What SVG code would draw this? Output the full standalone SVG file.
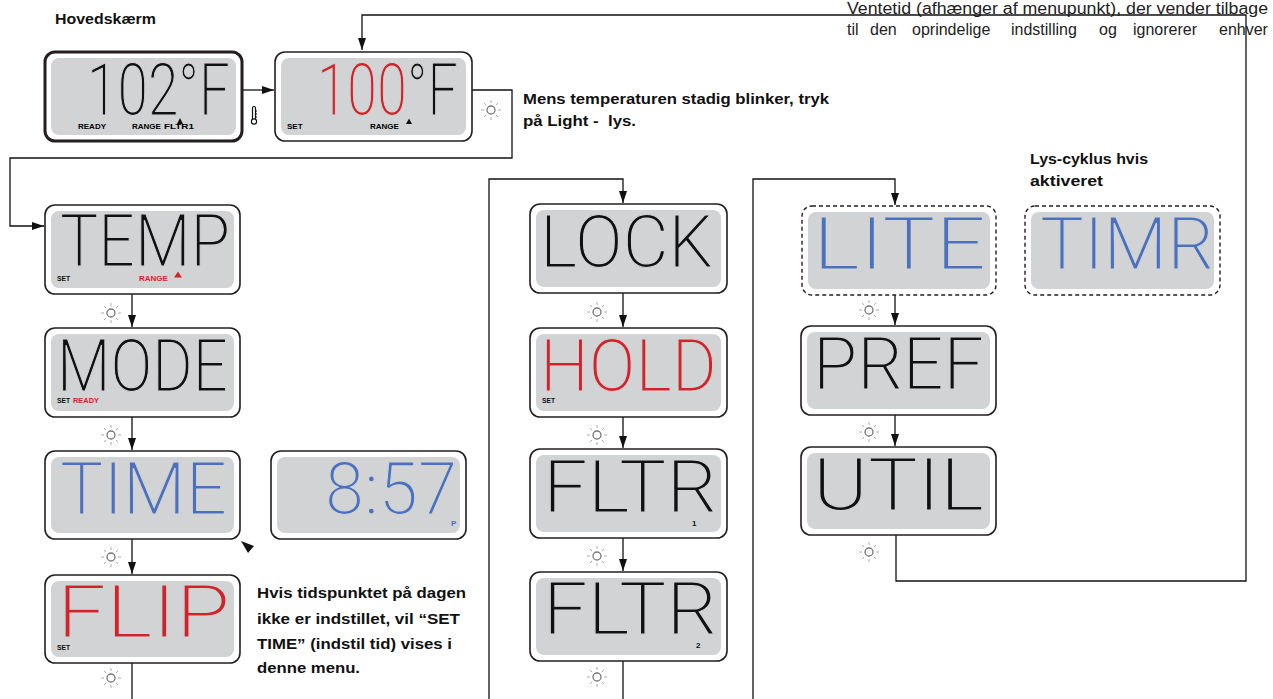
<svg xmlns="http://www.w3.org/2000/svg" width="1273" height="699" viewBox="0 0 1273 699">
<style>
.frame{fill:#fff;stroke:#231f20;stroke-width:1.6}
.thick{stroke-width:3}
.dash{stroke-dasharray:4 3;stroke-width:1.4}
.screen{fill:#d1d3d4}
.seg{font-family:"Roboto Light",Roboto,"DejaVu Sans",sans-serif;font-weight:300;font-size:73px;stroke:#d1d3d4;stroke-width:1.2}
.k{fill:#111}
.r{fill:#d2232a}
.b{fill:#4a70bf}
.lbl{font-family:"Liberation Sans",Arial,sans-serif;font-weight:bold;font-size:8px;stroke:none}
.conn{fill:none;stroke:#111;stroke-width:1.3}
.note{font-family:"Liberation Sans",Arial,sans-serif;font-weight:bold;font-size:15px;fill:#111}
.plain{font-family:"Liberation Sans Narrow","Liberation Sans",Arial,sans-serif;font-size:16px;fill:#222}
</style>
<defs>
<marker id="ah" viewBox="0 0 12 8" refX="12" refY="4" markerWidth="12" markerHeight="8" orient="auto" markerUnits="userSpaceOnUse">
<path d="M0,0 L12,4 L0,8 z" fill="#111"/>
</marker>
<g id="light">
<circle r="4" fill="#fff" stroke="#777" stroke-width="1.3"/>
<g stroke="#aaa" stroke-width="1">
<line x1="0" y1="-7" x2="0" y2="-10"/>
<line x1="0" y1="7" x2="0" y2="10"/>
<line x1="-7" y1="0" x2="-10" y2="0"/>
<line x1="7" y1="0" x2="10" y2="0"/>
<line x1="4.9" y1="4.9" x2="7" y2="7"/>
<line x1="-4.9" y1="4.9" x2="-7" y2="7"/>
<line x1="4.9" y1="-4.9" x2="7" y2="-7"/>
<line x1="-4.9" y1="-4.9" x2="-7" y2="-7"/>
</g>
</g>
</defs>
<rect width="1273" height="699" fill="#fff"/>

<g id="texts">
<text class="note" x="55" y="24" textLength="101" lengthAdjust="spacingAndGlyphs">Hovedskærm</text>
<text class="note" x="523" y="104" textLength="306" lengthAdjust="spacingAndGlyphs">Mens temperaturen stadig blinker, tryk</text>
<text class="note" x="523" y="126" textLength="113" lengthAdjust="spacingAndGlyphs" xml:space="preserve">på Light -  lys.</text>
<text class="note" x="1030" y="164" textLength="118" lengthAdjust="spacingAndGlyphs">Lys-cyklus hvis</text>
<text class="note" x="1030" y="186" textLength="73" lengthAdjust="spacingAndGlyphs">aktiveret</text>
<text class="note" x="257" y="598" textLength="209" lengthAdjust="spacingAndGlyphs">Hvis tidspunktet på dagen</text>
<text class="note" x="257" y="624" textLength="203" lengthAdjust="spacingAndGlyphs">ikke er indstillet, vil “SET</text>
<text class="note" x="257" y="649" textLength="195" lengthAdjust="spacingAndGlyphs">TIME” (indstil tid) vises i</text>
<text class="note" x="257" y="673" textLength="103" lengthAdjust="spacingAndGlyphs">denne menu.</text>
<text class="plain" x="847" y="14" textLength="421" lengthAdjust="spacingAndGlyphs">Ventetid (afhænger af menupunkt), der vender tilbage</text>
<text class="plain" y="35"><tspan x="847">til</tspan><tspan x="870">den</tspan><tspan x="912">oprindelige</tspan><tspan x="1011">indstilling</tspan><tspan x="1099">og</tspan><tspan x="1133">ignorerer</tspan><tspan x="1219">enhver</tspan></text>
</g>

<g id="connectors">
<path class="conn" d="M243,90 H274" marker-end="url(#ah)"/>
<path class="conn" d="M472,90 H512 V158 H10 V226 H44" marker-end="url(#ah)"/>
<path class="conn" d="M132,294 V327" marker-end="url(#ah)"/>
<path class="conn" d="M132,417 V450" marker-end="url(#ah)"/>
<path class="conn" d="M132,539 V574" marker-end="url(#ah)"/>
<path class="conn" d="M132,663 V699"/>
<path class="conn" d="M489,699 V179 H623 V203" marker-end="url(#ah)"/>
<path class="conn" d="M623,293 V327" marker-end="url(#ah)"/>
<path class="conn" d="M623,417 V448" marker-end="url(#ah)"/>
<path class="conn" d="M623,538 V571" marker-end="url(#ah)"/>
<path class="conn" d="M623,661 V699"/>
<path class="conn" d="M753,699 V179 H895 V205" marker-end="url(#ah)"/>
<path class="conn" d="M895,295 V325" marker-end="url(#ah)"/>
<path class="conn" d="M895,415 V446" marker-end="url(#ah)"/>
<path class="conn" d="M896,535 V581 H1246 V15 H362 V50" marker-end="url(#ah)"/>
<polygon points="241,541 254,546 248,553" fill="#111"/>
</g>

<g id="icons">
<use href="#light" x="491" y="110"/>
<use href="#light" x="111" y="313"/>
<use href="#light" x="111" y="435"/>
<use href="#light" x="111" y="557"/>
<use href="#light" x="111" y="678"/>
<use href="#light" x="597" y="312"/>
<use href="#light" x="597" y="435"/>
<use href="#light" x="597" y="556"/>
<use href="#light" x="597" y="677"/>
<use href="#light" x="869" y="310"/>
<use href="#light" x="869" y="432"/>
<use href="#light" x="869" y="552"/>
<g id="thermo" fill="none" stroke="#111" stroke-width="1.2">
<path d="M252.5,119 V108 a1.5,1.5 0 0 1 3,0 V119"/>
<circle cx="254" cy="121.5" r="2.6"/>
<path d="M255.5,111 h1.5 M255.5,114 h1.5 M255.5,117 h1.5"/>
</g>
</g>

<g id="n-102f">
<rect class="frame thick" x="45" y="52" width="197" height="89" rx="10"/>
<rect class="screen" x="51" y="58" width="185" height="77" rx="8"/>
<text class="seg k" x="87" y="115" textLength="143" lengthAdjust="spacingAndGlyphs">102°F</text>
<text class="lbl" x="78" y="129">READY</text>
<text class="lbl" x="132" y="129">RANGE</text>
<text class="lbl" x="164" y="129" textLength="30" lengthAdjust="spacingAndGlyphs">FLTR1</text>
<polygon points="177,124 183,124 180,118" fill="#111"/>
</g>

<g id="n-100f">
<rect class="frame" x="275" y="52" width="197" height="89" rx="10"/>
<rect class="screen" x="281" y="58" width="185" height="77" rx="8"/>
<text class="seg" x="317" y="115" textLength="141" lengthAdjust="spacingAndGlyphs"><tspan class="r">100</tspan><tspan class="k">°F</tspan></text>
<text class="lbl" x="287" y="129">SET</text>
<text class="lbl" x="370" y="129">RANGE</text>
<polygon points="406,124 412,124 409,118.5" fill="#111"/>
</g>

<g id="n-temp">
<rect class="frame" x="45" y="205" width="195" height="89" rx="10"/>
<rect class="screen" x="51" y="211" width="183" height="77" rx="8"/>
<text class="seg k" x="60" y="266" textLength="170" lengthAdjust="spacingAndGlyphs">TEMP</text>
<text class="lbl k" x="57" y="281" textLength="13" lengthAdjust="spacingAndGlyphs">SET</text>
<text class="lbl r" x="139" y="281">RANGE</text>
<polygon points="174,277.5 182,277.5 178,271.5" fill="#d2232a"/>
</g>

<g id="n-mode">
<rect class="frame" x="45" y="328" width="195" height="89" rx="10"/>
<rect class="screen" x="51" y="334" width="183" height="77" rx="8"/>
<text class="seg k" x="57" y="391" textLength="171" lengthAdjust="spacingAndGlyphs">MODE</text>
<text class="lbl k" x="57" y="403" textLength="13" lengthAdjust="spacingAndGlyphs">SET</text>
<text class="lbl r" x="73" y="403" textLength="26" lengthAdjust="spacingAndGlyphs">READY</text>
</g>

<g id="n-time">
<rect class="frame" x="45" y="451" width="195" height="88" rx="10"/>
<rect class="screen" x="51" y="457" width="183" height="76" rx="8"/>
<text class="seg b" x="60" y="514" textLength="167" lengthAdjust="spacingAndGlyphs">TIME</text>
</g>

<g id="n-clock">
<rect class="frame" x="271" y="451" width="195" height="88" rx="10"/>
<rect class="screen" x="277" y="457" width="183" height="76" rx="8"/>
<text class="seg b" x="325" y="514" textLength="132" lengthAdjust="spacingAndGlyphs">8:57</text>
<text class="lbl b" x="451" y="526">P</text>
</g>

<g id="n-flip">
<rect class="frame" x="45" y="575" width="195" height="88" rx="10"/>
<rect class="screen" x="51" y="581" width="183" height="76" rx="8"/>
<text class="seg r" x="57" y="637" textLength="173" lengthAdjust="spacingAndGlyphs">FLIP</text>
<text class="lbl k" x="57" y="650" textLength="13" lengthAdjust="spacingAndGlyphs">SET</text>
</g>

<g id="n-lock">
<rect class="frame" x="530" y="204" width="197" height="89" rx="10"/>
<rect class="screen" x="536" y="210" width="185" height="77" rx="8"/>
<text class="seg k" x="540" y="267" textLength="173" lengthAdjust="spacingAndGlyphs">LOCK</text>
</g>

<g id="n-hold">
<rect class="frame" x="530" y="328" width="197" height="89" rx="10"/>
<rect class="screen" x="536" y="334" width="185" height="77" rx="8"/>
<text class="seg r" x="540" y="391" textLength="177" lengthAdjust="spacingAndGlyphs">HOLD</text>
<text class="lbl k" x="542" y="403" textLength="13" lengthAdjust="spacingAndGlyphs">SET</text>
</g>

<g id="n-fltr1">
<rect class="frame" x="530" y="449" width="197" height="89" rx="10"/>
<rect class="screen" x="536" y="455" width="185" height="77" rx="8"/>
<text class="seg k" x="543" y="512" textLength="174" lengthAdjust="spacingAndGlyphs">FLTR</text>
<text class="lbl k" x="692" y="526">1</text>
</g>

<g id="n-fltr2">
<rect class="frame" x="530" y="572" width="197" height="89" rx="10"/>
<rect class="screen" x="536" y="578" width="185" height="77" rx="8"/>
<text class="seg k" x="543" y="634" textLength="174" lengthAdjust="spacingAndGlyphs">FLTR</text>
<text class="lbl k" x="696" y="648">2</text>
</g>

<g id="n-lite">
<rect class="frame dash" x="802" y="206" width="194" height="89" rx="10"/>
<rect class="screen" x="808" y="212" width="182" height="77" rx="8"/>
<text class="seg b" x="813" y="269" textLength="173" lengthAdjust="spacingAndGlyphs">LITE</text>
</g>

<g id="n-timr">
<rect class="frame dash" x="1025" y="206" width="195" height="89" rx="10"/>
<rect class="screen" x="1031" y="212" width="183" height="77" rx="8"/>
<text class="seg b" x="1040" y="269" textLength="174" lengthAdjust="spacingAndGlyphs">TIMR</text>
</g>

<g id="n-pref">
<rect class="frame" x="801" y="326" width="195" height="89" rx="10"/>
<rect class="screen" x="807" y="332" width="183" height="77" rx="8"/>
<text class="seg k" x="813" y="389" textLength="171" lengthAdjust="spacingAndGlyphs">PREF</text>
</g>

<g id="n-util">
<rect class="frame" x="801" y="447" width="195" height="88" rx="10"/>
<rect class="screen" x="807" y="453" width="183" height="76" rx="8"/>
<text class="seg k" x="813" y="510" textLength="171" lengthAdjust="spacingAndGlyphs">UTIL</text>
</g>
</svg>
